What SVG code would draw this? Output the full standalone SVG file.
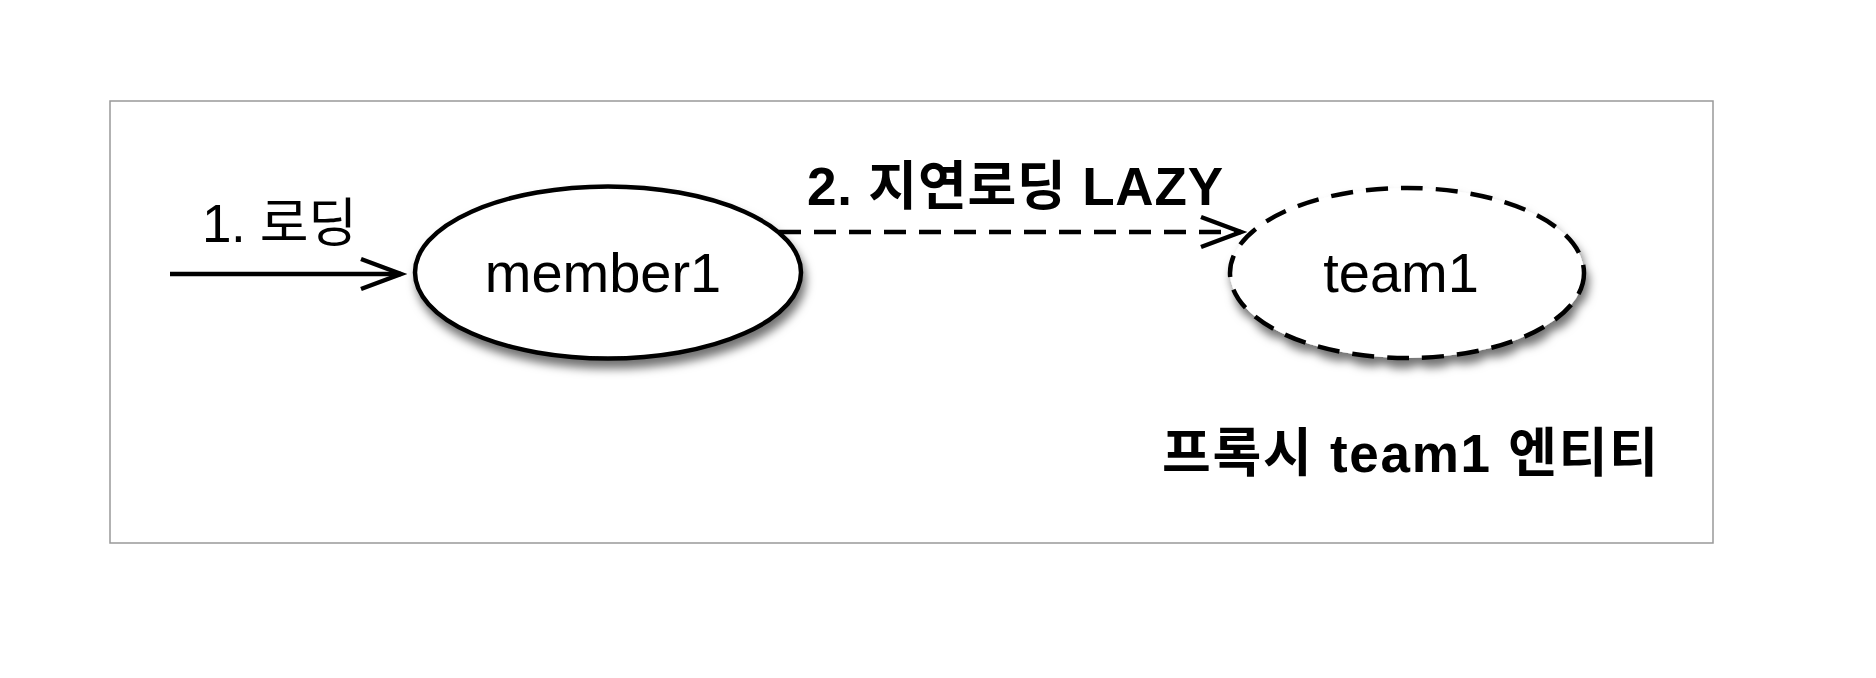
<svg xmlns="http://www.w3.org/2000/svg" width="1876" height="678" viewBox="0 0 1876 678">
<style>
.lbl{font-family:"Liberation Sans","Noto Sans CJK KR",sans-serif;fill:#000}
.node{fill:#fff;stroke:#000;stroke-width:4.5}
.dash{stroke-dasharray:22 13}
.conn{fill:none;stroke:#000;stroke-width:4.5}
</style>
<defs>
<filter id="sh" x="-20%" y="-20%" width="150%" height="160%">
<feDropShadow dx="3" dy="8" stdDeviation="5" flood-color="#000" flood-opacity="0.55"/>
</filter>
<marker id="arr" markerUnits="userSpaceOnUse" viewBox="-50 -20 60 40" markerWidth="60" markerHeight="40" refX="0" refY="0" orient="auto">
<path d="M-40,-15 L0,0 L-40,15" fill="none" stroke="#000" stroke-width="4.5" stroke-linejoin="miter"/>
</marker>
</defs>
<rect width="1876" height="678" fill="#fff"/>
<rect x="110" y="101" width="1603" height="442" fill="#fff" stroke="#999" stroke-width="1.5"/>
<g id="member1">
<ellipse class="node" cx="608" cy="272.5" rx="193" ry="86" filter="url(#sh)"/>
<text class="lbl" x="603" y="292" font-size="56" text-anchor="middle">member1</text>
</g>
<g id="team1">
<ellipse class="node dash" cx="1407" cy="273" rx="177" ry="85" filter="url(#sh)"/>
<text class="lbl" x="1401" y="292" font-size="56" text-anchor="middle">team1</text>
</g>
<g id="connectors">
<path class="conn" d="M170,274 L401,274" marker-end="url(#arr)"/>
<path class="conn dash" d="M779,232 L1241,232" marker-end="url(#arr)"/>
<text class="lbl" x="202" y="242" font-size="53" textLength="155" lengthAdjust="spacing">1. 로딩</text>
<text class="lbl" x="807" y="205" font-size="53" font-weight="bold" textLength="416" lengthAdjust="spacing">2. 지연로딩 LAZY</text>
</g>
<g id="proxy-label">
<text class="lbl" x="1162" y="472" font-size="53" font-weight="bold" textLength="496" lengthAdjust="spacing">프록시 team1 엔티티</text>
</g>
</svg>
